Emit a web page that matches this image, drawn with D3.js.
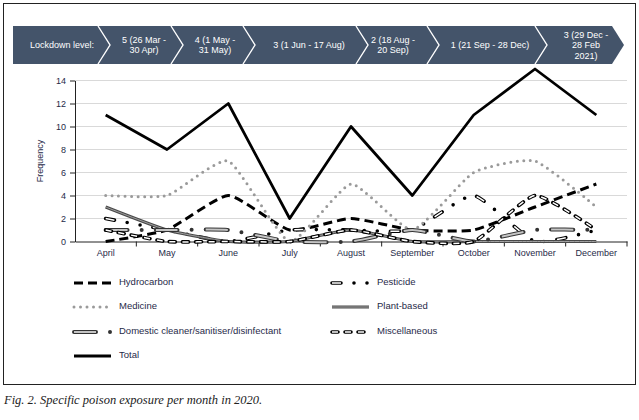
<!DOCTYPE html>
<html lang="en">
<head>
<meta charset="UTF-8">
<title>poison-exposure-2020</title>
<style>
  body { margin: 0; background: #fff; }
  svg { display: block; }
  .lbl { font-family: "Liberation Sans Narrow", "Liberation Sans", sans-serif; font-size: 9px; fill: #1f2a48; }
  .leg { font-family: "Liberation Sans Narrow", "Liberation Sans", sans-serif; font-size: 9.5px; fill: #1f2a48; }
  .banner-text { font-family: "Liberation Sans Narrow", "Liberation Sans", sans-serif; font-size: 9px; fill: #fff; text-anchor: middle; }
  .caption { font-family: "Liberation Serif", serif; font-style: italic; font-size: 12.5px; fill: #222; }
</style>
</head>
<body>
<script src="https://cdn.jsdelivr.net/npm/d3@7"></script>
<script>
// data
const months = ["April", "May", "June", "July", "August", "September", "October", "November", "December"];
const hydrocarbon   = [0, 1, 4, 1, 2, 1, 1, 3, 5];
const pesticide     = [2, 1, 0, 1, 1, 1, 4, 0, 1];
const medicine      = [4, 4, 7, 0, 5, 1, 6, 7, 3];
const plantBased    = [3, 1, 0, 0, 1, 0, 0, 0, 0];
const domestic      = [1, 1, 1, 0, 0, 1, 0, 1, 1];
const miscellaneous = [1, 0, 0, 0, 1, 0, 0, 4, 1];
const total         = [11, 8, 12, 2, 10, 4, 11, 15, 11];
const yTicks = [0, 2, 4, 6, 8, 10, 12, 14];

const levelLabels = [
  ["Lockdown level:"],
  ["5 (26 Mar -", "30 Apr)"],
  ["4 (1 May -", "31 May)"],
  ["3 (1 Jun - 17 Aug)"],
  ["2 (18 Aug -", "20 Sep)"],
  ["1 (21 Sep - 28 Dec)"],
  ["3 (29 Dec -", "28 Feb", "2021)"]
];

// layout
const W = 639, H = 420;
const svg = d3.select("body").append("svg").attr("width", W).attr("height", H);

svg.append("rect").attr("x", 3.5).attr("y", 3.5).attr("width", 632).attr("height", 381)
  .attr("fill", "none").attr("stroke", "#222").attr("stroke-width", 1);

// banner
const bTop = 26, bBot = 64, bMid = (bTop + bBot) / 2, bTip = 12;
const bannerLeft = 13, bannerRight = 612;
const sepX = [98, 171, 243, 356, 427, 535];            // top-left x of each chevron divider
const textX = [62, 144, 215, 309, 393, 490, 586];      // centre of each banner label

svg.append("path")
  .attr("d", `M${bannerLeft},${bTop}H${bannerRight}L${bannerRight + bTip},${bMid}L${bannerRight},${bBot}H${bannerLeft}Z`)
  .attr("fill", "#44546a");

sepX.forEach(x => {
  svg.append("path")
    .attr("d", `M${x},${bTop}L${x + bTip},${bMid}L${x},${bBot}`)
    .attr("fill", "none").attr("stroke", "#fff").attr("stroke-width", 1.4);
});

levelLabels.forEach((lines, i) => {
  const lh = 10.5;
  const t = svg.append("text").attr("class", "banner-text");
  lines.forEach((ln, j) => {
    t.append("tspan").attr("x", textX[i])
      .attr("y", bMid + 3 + (j - (lines.length - 1) / 2) * lh)
      .text(ln);
  });
});

// chart
const x = d3.scaleBand().domain(months).range([75, 627]).padding(0);
const y = d3.scaleLinear().domain([0, 14]).range([241.5, 80.5]);
const xc = d => x(d) + x.bandwidth() / 2;

const grid = svg.append("g");
grid.selectAll("line").data(yTicks.filter(d => d > 0)).join("line")
  .attr("x1", 75).attr("x2", 627)
  .attr("y1", d => y(d)).attr("y2", d => y(d))
  .attr("stroke", "#d9d9d9").attr("stroke-width", 1);

const yAxis = svg.append("g").attr("transform", "translate(75,0)")
  .call(d3.axisLeft(y).tickValues(yTicks).tickSize(5).tickPadding(4).tickSizeOuter(0));
yAxis.select(".domain").attr("stroke", "#222");
yAxis.selectAll(".tick line").attr("stroke", "#222");
yAxis.selectAll("text").attr("class", "lbl").attr("font-family", null).attr("font-size", null).attr("fill", null);

const xAxis = svg.append("g").attr("transform", `translate(0,${y(0)})`)
  .call(d3.axisBottom(x).tickSize(0).tickPadding(8).tickSizeOuter(0));
xAxis.select(".domain").attr("stroke", "#222");
xAxis.selectAll("text").attr("class", "lbl").attr("font-family", null).attr("font-size", null).attr("fill", null);
// boundary ticks between categories
svg.append("g").selectAll("line").data(months).join("line")
  .attr("x1", d => x(d) + x.bandwidth()).attr("x2", d => x(d) + x.bandwidth())
  .attr("y1", y(0)).attr("y2", y(0) + 5)
  .attr("stroke", "#222");

svg.append("text").attr("class", "lbl")
  .attr("transform", `translate(43,${(y(0) + y(14)) / 2}) rotate(-90)`)
  .attr("text-anchor", "middle").text("Frequency");

// series
const series = [
  { name: "Hydrocarbon", values: hydrocarbon, smooth: true,
    layers: [{ stroke: "#000", width: 3, dash: "9,5" }] },
  { name: "Pesticide", values: pesticide, smooth: true,
    layers: [{ stroke: "#000", width: 3.6, dash: "9,13,0,13,0,13", cap: "round" },
             { stroke: "#fff", width: 1.5, dash: "9,13,0,13,0,13" }] },
  { name: "Medicine", values: medicine, smooth: true,
    layers: [{ stroke: "#9a9a9a", width: 3, dash: "0,6.5", cap: "round" }] },
  { name: "Plant-based", values: plantBased, smooth: true,
    layers: [{ stroke: "#4a4a4a", width: 3.2 },
             { stroke: "#a0a0a0", width: 1 }] },
  { name: "Domestic cleaner/sanitiser/disinfectant", values: domestic, smooth: true,
    layers: [{ stroke: "#333", width: 4, dash: "22,14,0,14", cap: "round" },
             { stroke: "#c4c4c4", width: 2, dash: "22,14,0,14" }] },
  { name: "Miscellaneous", values: miscellaneous, smooth: true,
    layers: [{ stroke: "#000", width: 3.6, dash: "6,7", cap: "round" },
             { stroke: "#fff", width: 1.5, dash: "6,7" }] },
  { name: "Total", values: total, smooth: false,
    layers: [{ stroke: "#000", width: 2.8 }] }
];

const plot = svg.append("g");
series.forEach(s => {
  const line = d3.line()
    .x((d, i) => xc(months[i]))
    .y(d => y(d))
    .curve(s.smooth ? d3.curveCardinal.tension(0.5) : d3.curveLinear);
  s.layers.forEach(l => {
    plot.append("path").datum(s.values)
      .attr("d", line)
      .attr("fill", "none")
      .attr("stroke", l.stroke)
      .attr("stroke-width", l.width)
      .attr("stroke-dasharray", l.dash || null)
      .attr("stroke-linecap", l.cap || "butt")
      .attr("stroke-linejoin", "round");
  });
});

// legend
const legCols = [74, 332], legRows = [283, 307, 332, 356], sampleW = 37;
const legend = svg.append("g");
series.forEach((s, i) => {
  const lx = legCols[i % 2], ly = legRows[Math.floor(i / 2)];
  s.layers.forEach(l => {
    legend.append("line")
      .attr("x1", lx).attr("x2", lx + sampleW).attr("y1", ly).attr("y2", ly)
      .attr("stroke", l.stroke).attr("stroke-width", l.width)
      .attr("stroke-dasharray", l.dash || null)
      .attr("stroke-linecap", l.cap || "butt");
  });
  legend.append("text").attr("class", "leg")
    .attr("x", lx + sampleW + 8).attr("y", ly).attr("dy", "0.2em")
    .text(s.name);
});

svg.append("text").attr("class", "caption")
  .attr("x", 4).attr("y", 404)
  .text("Fig. 2. Specific poison exposure per month in 2020.");
</script>
</body>
</html>
